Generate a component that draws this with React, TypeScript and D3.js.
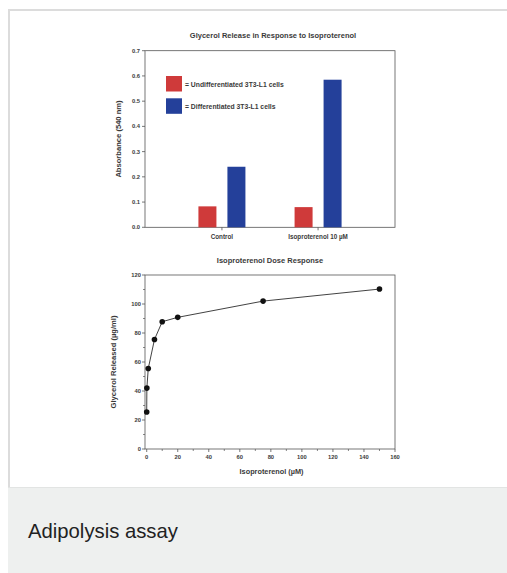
import React from 'react'
import * as d3 from 'd3'

// bar chart data
const groups = ['Control', 'Isoproterenol 10 µM']
const undifferentiated = [0.083, 0.08]
const differentiated = [0.24, 0.585]
const absTicks = [0, 0.1, 0.2, 0.3, 0.4, 0.5, 0.6, 0.7]
const legendLabels = ['= Undifferentiated 3T3-L1 cells', '= Differentiated 3T3-L1 cells']

// dose response data
const dose = [0, 0.1, 1, 5, 10, 20, 75, 150]
const glycerol = [25.5, 42, 55.5, 75.5, 87.8, 90.8, 102, 110.3]
const doseTicks = [0, 20, 40, 60, 80, 100, 120, 140, 160]
const glyTicks = [0, 20, 40, 60, 80, 100, 120]

const W = 507
const H = 573
const RED = '#cf3a3a'
const BLUE = '#24409a'
const INK = '#3a3a3a'
const FONT = '"Liberation Sans", Arial, sans-serif'

function BarChart() {
  const left = 145, right = 395, top = 50.7, bottom = 227.3
  const x = d3.scalePoint().domain(groups).range([left, right]).padding(0.8)
  const y = d3.scaleLinear().domain([0, 0.7]).range([bottom, top])
  const barW = 18
  const gap = 11
  const fmt = d3.format('.1f')
  return (
    <g fontFamily={FONT} fill={INK}>
      <text x={273} y={38} textAnchor="middle" fontSize={7.5} fontWeight="bold">
        Glycerol Release in Response to Isoproterenol
      </text>
      <rect x={left} y={top} width={right - left} height={bottom - top} fill="none" stroke="#555" strokeWidth={0.8} />
      {absTicks.map((t) => (
        <g key={t}>
          <line x1={left - 3} x2={left} y1={y(t)} y2={y(t)} stroke="#555" strokeWidth={0.8} />
          <text x={left - 5} y={y(t) + 2} textAnchor="end" fontSize={5.8} fontWeight="bold">{fmt(t)}</text>
        </g>
      ))}
      {groups.map((g, i) => {
        const cx = x(g) as number
        return (
          <g key={g}>
            <rect x={cx - gap / 2 - barW} y={y(undifferentiated[i])} width={barW}
              height={bottom - y(undifferentiated[i])} fill={RED} />
            <rect x={cx + gap / 2} y={y(differentiated[i])} width={barW}
              height={bottom - y(differentiated[i])} fill={BLUE} />
            <line x1={cx} x2={cx} y1={bottom} y2={bottom + 3} stroke="#555" strokeWidth={0.8} />
            <text x={cx} y={238.5} textAnchor="middle" fontSize={6.3} fontWeight="bold">{g}</text>
          </g>
        )
      })}
      <text transform={`translate(121,${(top + bottom) / 2}) rotate(-90)`} textAnchor="middle"
        fontSize={7.6} fontWeight="bold">Absorbance (540 nm)</text>
      {legendLabels.map((l, i) => (
        <g key={l}>
          <rect x={166} y={76 + i * 22.3} width={16} height={15.5} fill={i === 0 ? RED : BLUE} />
          <text x={185} y={86.5 + i * 22.3} fontSize={6.8} fontWeight="bold">{l}</text>
        </g>
      ))}
    </g>
  )
}

function DoseChart() {
  const left = 145, right = 395, top = 275, bottom = 449
  const x = d3.scaleLinear().domain([-1.1, 160]).range([left, right])
  const y = d3.scaleLinear().domain([0, 120]).range([bottom, top])
  const line = d3.line<number>().x((d) => x(d)).y((_, i) => y(glycerol[i]))
  const minorX = d3.range(10, 160, 20)
  const minorY = d3.range(10, 120, 20)
  return (
    <g fontFamily={FONT} fill={INK}>
      <text x={270} y={263} textAnchor="middle" fontSize={7.5} fontWeight="bold">
        Isoproterenol Dose Response
      </text>
      <rect x={left} y={top} width={right - left} height={bottom - top} fill="none" stroke="#555" strokeWidth={0.8} />
      {doseTicks.map((t) => (
        <g key={t}>
          <line x1={x(t)} x2={x(t)} y1={bottom} y2={bottom + 3} stroke="#555" strokeWidth={0.8} />
          <text x={x(t)} y={459} textAnchor="middle" fontSize={5.8} fontWeight="bold">{t}</text>
        </g>
      ))}
      {minorX.map((t) => (
        <line key={t} x1={x(t)} x2={x(t)} y1={bottom} y2={bottom + 2} stroke="#555" strokeWidth={0.7} />
      ))}
      {glyTicks.map((t) => (
        <g key={t}>
          <line x1={left - 3} x2={left} y1={y(t)} y2={y(t)} stroke="#555" strokeWidth={0.8} />
          <text x={left - 4} y={y(t) + 2} textAnchor="end" fontSize={5.8} fontWeight="bold">{t}</text>
        </g>
      ))}
      {minorY.map((t) => (
        <line key={t} x1={left - 2} x2={left} y1={y(t)} y2={y(t)} stroke="#555" strokeWidth={0.7} />
      ))}
      <path d={line(dose) || ''} fill="none" stroke="#111" strokeWidth={0.8} />
      {dose.map((d, i) => (
        <circle key={i} cx={x(d)} cy={y(glycerol[i])} r={2.8} fill="#111" />
      ))}
      <text transform={`translate(116,${(top + bottom) / 2}) rotate(-90)`} textAnchor="middle"
        fontSize={7.6} fontWeight="bold">{'Glycerol Released (µg/ml)'}</text>
      <text x={271.5} y={474} textAnchor="middle" fontSize={7.3} fontWeight="bold">{'Isoproterenol (µM)'}</text>
    </g>
  )
}

export default function App() {
  return (
    <>
      <style>{'body{margin:0;overflow:hidden}'}</style>
      <svg width={W} height={H} style={{ display: 'block' }}>
        <rect x={0} y={0} width={W} height={H} fill="#fff" />
        <rect x={9} y={10} width={W + 10} height={H} fill="#fff" stroke="#dcdcdc" strokeWidth={2} />
        <rect x={8} y={488} width={W} height={H - 488} fill="#eef0ef" />
        <line x1={8} x2={W} y1={487.5} y2={487.5} stroke="#e2e4e3" strokeWidth={1} />
        <BarChart />
        <DoseChart />
        <text x={28} y={538} fontFamily="Arial, 'Liberation Sans', Helvetica, sans-serif" fontSize={20.3} fill="#222">
          Adipolysis assay
        </text>
      </svg>
    </>
  )
}
